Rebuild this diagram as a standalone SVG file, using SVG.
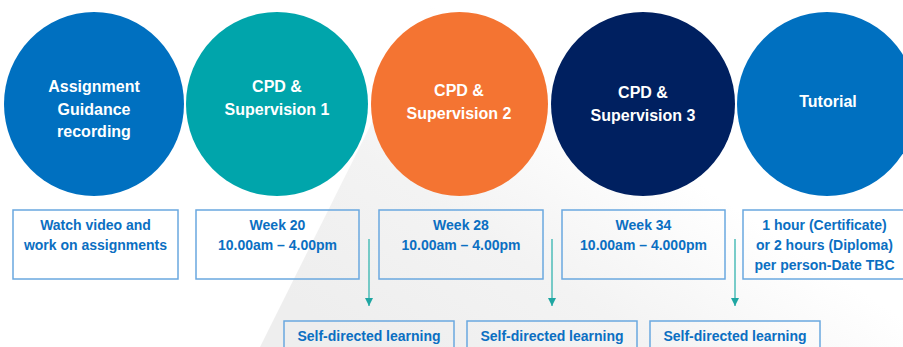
<svg xmlns="http://www.w3.org/2000/svg" width="903" height="347" viewBox="0 0 903 347">
<defs>
<linearGradient id="bg" gradientUnits="userSpaceOnUse" x1="320" y1="320" x2="500" y2="50">
<stop offset="0" stop-color="#eeeeee"/>
<stop offset="0.5" stop-color="#f3f3f3"/>
<stop offset="1" stop-color="#ffffff"/>
</linearGradient>
<marker id="ah" markerWidth="8" markerHeight="8" refX="8" refY="4" orient="auto" markerUnits="userSpaceOnUse" viewBox="0 0 8 8">
<path d="M0,0 L8,4 L0,8 Z" fill="#1fa6a2"/>
</marker>
<style>
.ct{font-family:"Liberation Sans",Arial,sans-serif;font-weight:bold;font-size:16px;fill:#ffffff;text-anchor:middle}
.bt{font-family:"Liberation Sans",Arial,sans-serif;font-weight:bold;font-size:14px;fill:#0b6fc2;text-anchor:middle}
.box{fill:none;stroke:#6aa8df;stroke-width:1.5}
.conn{stroke:#4dbdb9;stroke-width:1.5;fill:none}
</style>
</defs>
<rect width="903" height="347" fill="#ffffff"/>
<polygon points="433,0 903,0 903,347 260,347" fill="url(#bg)"/>

<g id="node-assignment">
<ellipse cx="94" cy="104" rx="90" ry="92" fill="#0070c0"/>
<text class="ct" x="94" y="92">Assignment</text>
<text class="ct" x="94" y="115">Guidance</text>
<text class="ct" x="94" y="137">recording</text>
</g>
<g id="node-cpd1">
<ellipse cx="277" cy="104" rx="91" ry="92" fill="#00a5ab"/>
<text class="ct" x="277" y="92">CPD &amp;</text>
<text class="ct" x="277" y="115">Supervision 1</text>
</g>
<g id="node-cpd2">
<ellipse cx="459.5" cy="104" rx="88.5" ry="92" fill="#f47432"/>
<text class="ct" x="459" y="96">CPD &amp;</text>
<text class="ct" x="459" y="119">Supervision 2</text>
</g>
<g id="node-cpd3">
<ellipse cx="643" cy="104" rx="92" ry="92" fill="#002060"/>
<text class="ct" x="643" y="98">CPD &amp;</text>
<text class="ct" x="643" y="121">Supervision 3</text>
</g>
<g id="node-tutorial">
<ellipse cx="827" cy="104" rx="90" ry="92" fill="#0070c0"/>
<text class="ct" x="828" y="107">Tutorial</text>
</g>

<g id="box-watch">
<rect class="box" x="13" y="210" width="165" height="69"/>
<text class="bt" x="95.5" y="230">Watch video and</text>
<text class="bt" x="95.5" y="250">work on assignments</text>
</g>
<g id="box-week20">
<rect class="box" x="196" y="210" width="163" height="69"/>
<text class="bt" x="277.5" y="230">Week 20</text>
<text class="bt" x="277.5" y="250">10.00am – 4.00pm</text>
</g>
<g id="box-week28">
<rect class="box" x="379" y="210" width="164" height="69"/>
<text class="bt" x="461" y="230">Week 28</text>
<text class="bt" x="461" y="250">10.00am – 4.00pm</text>
</g>
<g id="box-week34">
<rect class="box" x="562" y="210" width="163" height="69"/>
<text class="bt" x="643.5" y="230">Week 34</text>
<text class="bt" x="643.5" y="250">10.00am – 4.000pm</text>
</g>
<g id="box-tutorial">
<rect class="box" x="743" y="210" width="163" height="69"/>
<text class="bt" x="824.5" y="230">1 hour (Certificate)</text>
<text class="bt" x="824.5" y="250">or 2 hours (Diploma)</text>
<text class="bt" x="824.5" y="270">per person-Date TBC</text>
</g>

<g id="self1">
<rect class="box" x="284" y="321" width="170" height="40"/>
<text class="bt" x="369" y="341">Self-directed learning</text>
</g>
<g id="self2">
<rect class="box" x="467" y="321" width="170" height="40"/>
<text class="bt" x="552" y="341">Self-directed learning</text>
</g>
<g id="self3">
<rect class="box" x="650" y="321" width="170" height="40"/>
<text class="bt" x="735" y="341">Self-directed learning</text>
</g>

<g id="connectors">
<line class="conn" x1="369" y1="239" x2="369" y2="306" marker-end="url(#ah)"/>
<line class="conn" x1="552" y1="239" x2="552" y2="306" marker-end="url(#ah)"/>
<line class="conn" x1="735" y1="239" x2="735" y2="306" marker-end="url(#ah)"/>
</g>
</svg>
